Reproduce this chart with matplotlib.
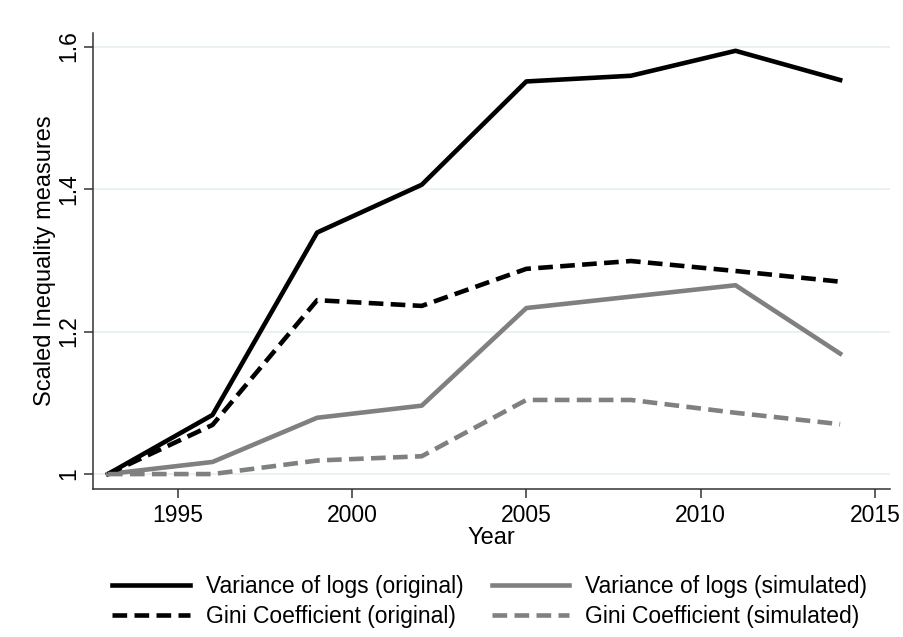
import matplotlib
matplotlib.use("Agg")
import matplotlib.pyplot as plt

# data
years = [1993, 1996, 1999, 2002, 2005, 2008, 2011, 2014]
var_logs_original = [1.0, 1.083, 1.339, 1.406, 1.551, 1.559, 1.594, 1.553]
gini_original = [1.0, 1.069, 1.244, 1.236, 1.288, 1.299, 1.285, 1.270]
var_logs_simulated = [1.0, 1.017, 1.079, 1.096, 1.233, 1.249, 1.265, 1.169]
gini_simulated = [1.0, 1.0, 1.019, 1.025, 1.104, 1.104, 1.086, 1.070]

x_ticks = [1995, 2000, 2005, 2010, 2015]
y_ticks = [1.0, 1.2, 1.4, 1.6]
y_tick_labels = ["1", "1.2", "1.4", "1.6"]

plt.rcParams["font.family"] = ["Liberation Sans", "DejaVu Sans"]

fig = plt.figure(figsize=(9.04, 6.37), dpi=100)
ax = fig.add_axes([0.1032, 0.2323, 0.8813, 0.7159])

grey = "#808080"
lw = 3.3
dash = (3.2, 1.6)

ax.plot(years, var_logs_original, color="black", lw=lw,
        solid_joinstyle="round", label="Variance of logs (original)")
ax.plot(years, var_logs_simulated, color=grey, lw=lw,
        solid_joinstyle="round", label="Variance of logs (simulated)")
ax.plot(years, gini_original, color="black", lw=lw, dashes=dash,
        label="Gini Coefficient (original)")
ax.plot(years, gini_simulated, color=grey, lw=lw, dashes=dash,
        label="Gini Coefficient (simulated)")

ax.set_xlim(1992.58, 2015.43)
ax.set_ylim(0.979, 1.619)
ax.set_xticks(x_ticks)
ax.set_yticks(y_ticks)
ax.set_yticklabels(y_tick_labels, rotation=90, va="center")

ax.grid(axis="y", color="#e8f0f2", lw=1.3)
ax.set_axisbelow(True)
for side in ["top", "right"]:
    ax.spines[side].set_visible(False)
for side in ["left", "bottom"]:
    ax.spines[side].set_color("#333333")
    ax.spines[side].set_linewidth(1.1)

ax.tick_params(axis="both", direction="out", length=6.5, width=1.1,
               color="#333333", labelsize=16.5)
ax.tick_params(axis="x", pad=4)
ax.tick_params(axis="y", pad=3)

ax.set_xlabel("Year", fontsize=17, labelpad=0)
ax.set_ylabel("Scaled Inequality measures", fontsize=17, labelpad=1)

handles, labels = ax.get_legend_handles_labels()
order = [0, 2, 1, 3]
fig.legend([handles[i] for i in order], [labels[i] for i in order],
           loc="center", bbox_to_anchor=(0.542, 0.056), ncol=2,
           frameon=False, fontsize=16.5, handlelength=3.4,
           handletextpad=0.7, columnspacing=1.2, labelspacing=0.3,
           borderpad=0)

fig.savefig("out.png", dpi=100, facecolor="white")
